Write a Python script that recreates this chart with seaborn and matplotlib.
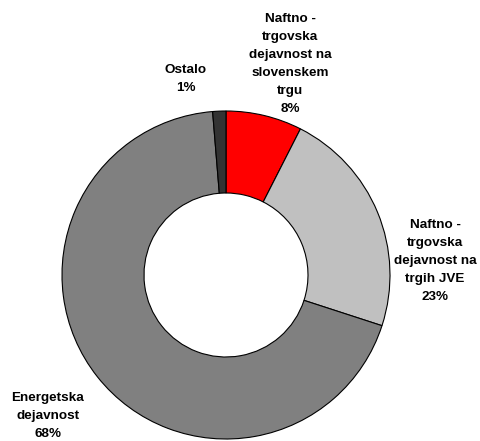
import matplotlib
matplotlib.use("Agg")
import matplotlib.pyplot as plt
import seaborn as sns

# data
labels = ["Naftno -\ntrgovska\ndejavnost na\nslovenskem\ntrgu",
          "Naftno -\ntrgovska\ndejavnost na\ntrgih JVE",
          "Energetska\ndejavnost",
          "Ostalo"]
shares = [7.5, 22.5, 68.7, 1.3]
pct_labels = ["8%", "23%", "68%", "1%"]
colors = ["#FF0000", "#C0C0C0", "#808080", "#333333"]

# label anchor positions (pixel coords, y from bottom)
label_pos = [(290, 377), (435, 180), (48, 25), (186, 362)]

sns.set_theme(style="white")
plt.rcParams['font.family'] = ['Liberation Sans', 'DejaVu Sans']

fig = plt.figure(figsize=(4.8, 4.41), dpi=100)
ax = fig.add_axes([0, 0, 1, 1])

ax.pie(shares, colors=colors, startangle=90, counterclock=False,
       radius=164, center=(226, 166), frame=False,
       wedgeprops=dict(width=82, edgecolor="black", linewidth=0.8))

for lab, pct, (x, y) in zip(labels, pct_labels, label_pos):
    ax.text(x, y, f"{lab}\n{pct}", ha="center", va="center",
            fontsize=9.7, fontweight="bold", linespacing=1.65, color="black")

ax.set_xlim(0, 480)
ax.set_ylim(0, 441)
ax.axis("off")

fig.savefig("out.png", dpi=100)
